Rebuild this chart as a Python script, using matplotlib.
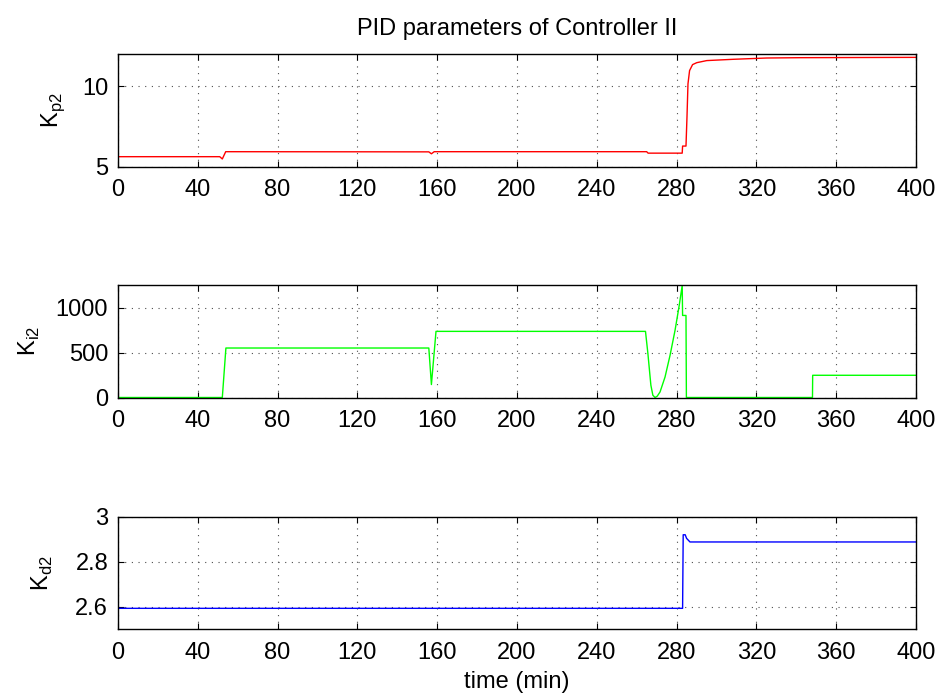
import matplotlib.pyplot as plt

plt.rcParams['font.family'] = ['Liberation Sans', 'DejaVu Sans']
plt.rcParams['font.size'] = 17
plt.rcParams['mathtext.fontset'] = 'custom'
plt.rcParams['mathtext.rm'] = 'Liberation Sans'

# Kp2 trace
t_kp = [0, 51, 52.3, 54, 155.8, 157.1, 158.5, 265, 265.7, 282.8, 283.0, 284.7,
        285.2, 285.7, 286.5, 288.0, 290.1, 295.1, 308.4, 325.1, 341.8, 400]
kp = [5.62, 5.62, 5.48, 5.93, 5.92, 5.80, 5.93, 5.93, 5.84, 5.84, 6.28, 6.28,
      8.09, 10.15, 10.97, 11.34, 11.46, 11.59, 11.67, 11.75, 11.77, 11.79]

# Ki2 trace
t_ki = [0, 52.3, 54.1, 155.8, 157.1, 159.4, 264.4, 265.6, 267.1, 268.1, 269.2,
        270.3, 271.7, 274.2, 276.7, 279.2, 281.3, 282.8, 283.0, 284.7, 284.9,
        348.1, 348.2, 400]
ki = [0, 0, 550, 550, 144, 735, 735, 490, 137, 25, 0,
      15, 62, 228, 468, 745, 1022, 1245, 912, 912, 0,
      0, 247, 247]

# Kd2 trace
t_kd = [0, 283.0, 283.3, 284.3, 285.0, 286.7, 400]
kd = [2.593, 2.593, 2.92, 2.92, 2.904, 2.888, 2.888]

xticks = list(range(0, 401, 40))

fig = plt.figure(figsize=(9.4, 6.93), dpi=100)
left, width = 0.1255, 0.849
ax1 = fig.add_axes([left, 0.7595, width, 0.1626])
ax2 = fig.add_axes([left, 0.4264, width, 0.1623])
ax3 = fig.add_axes([left, 0.0920, width, 0.1623])

ax1.plot(t_kp, kp, color='red', lw=1)
ax2.plot(t_ki, ki, color=(0, 1, 0), lw=1)
ax3.plot(t_kd, kd, color='blue', lw=1)

ax1.set_ylim(5, 12)
ax1.set_yticks([5, 10])
ax2.set_ylim(0, 1250)
ax2.set_yticks([0, 500, 1000])
ax3.set_ylim(2.5, 3)
ax3.set_yticks([2.6, 2.8, 3])
ax3.set_yticklabels(['2.6', '2.8', '3'])

for ax in (ax1, ax2, ax3):
    ax.set_xlim(0, 400)
    ax.set_xticks(xticks)
    ax.grid(True, linestyle=(0, (1, 5)), color='0.3', lw=0.8)
    ax.tick_params(direction='in', length=4, top=True, right=True)
    ax.tick_params(axis='x', pad=9)
    ax.tick_params(axis='y', pad=7)
    for s in ax.spines.values():
        s.set_linewidth(1.0)

ax1.set_title('PID parameters of Controller II', fontsize=17, pad=14)
ax1.set_ylabel(r'K$_\mathregular{p2}$', labelpad=11)
ax2.set_ylabel(r'K$_\mathregular{i2}$', labelpad=10)
ax3.set_ylabel(r'K$_\mathregular{d2}$', labelpad=15)
ax3.set_xlabel('time (min)', labelpad=5)

fig.savefig('out.png', dpi=100)
